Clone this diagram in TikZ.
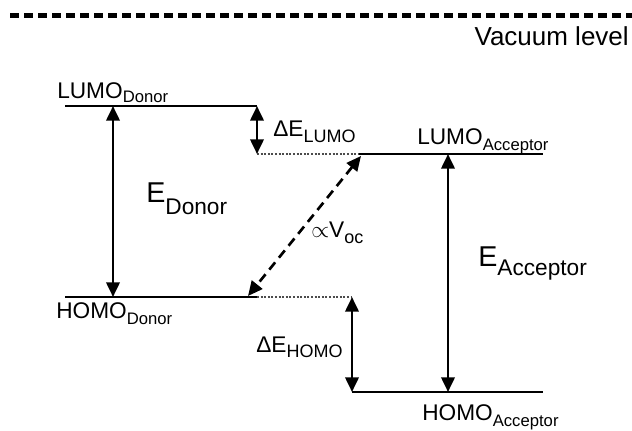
\documentclass[tikz,border=0pt]{standalone}
\usepackage{fontspec}
\setmainfont{Liberation Sans}
\usetikzlibrary{arrows.meta}
\newcommand{\subsc}[3][12.5]{\raisebox{-#2}{\fontsize{#1}{#1}\selectfont #3}}

\begin{document}
\begin{tikzpicture}[x=0.75pt, y=-0.75pt, >={Triangle[length=11pt,width=10pt]}]
	\tikzset{
		level/.style={line width=1.6pt},
		gap/.style={line width=1.3pt, black!70, dash pattern=on 1.5pt off 1.2pt},
		vacuum/.style={line width=3.75pt, dash pattern=on 6.75pt off 3.75pt},
		span/.style={<->, line width=2pt},
		lbl/.style={inner sep=0pt, anchor=base west, font=\fontsize{17}{19}\selectfont},
		big/.style={lbl, font=\fontsize{21.5}{24}\selectfont}
	}
	\useasboundingbox (0,0) rectangle (632,431);
	% energy levels
	\coordinate (vac-l) at (10,16);
	\coordinate (vac-r) at (632,16);
	\coordinate (lumoD-l) at (65,106);
	\coordinate (lumoD-r) at (257,106);
	\coordinate (homoD-l) at (65,297);
	\coordinate (homoD-r) at (257,297);
	\coordinate (lumoA-l) at (358,154);
	\coordinate (lumoA-r) at (543,154);
	\coordinate (homoA-l) at (352,392);
	\coordinate (homoA-r) at (543,392);
	\coordinate (lumoGap) at (257,154);
	\coordinate (homoGap) at (352,297);
	\coordinate (eD) at (113,0);
	\coordinate (eA) at (448,0);
	\coordinate (voc-a) at (361,156);
	\coordinate (voc-b) at (248,296);

	\draw[vacuum] (vac-l) -- (vac-r);
	\foreach \a/\b in {lumoD-l/lumoD-r, homoD-l/homoD-r, lumoA-l/lumoA-r, homoA-l/homoA-r}
		\draw[level] (\a) -- (\b);
	\draw[gap] (lumoGap) -- (lumoA-l);
	\draw[gap] (homoD-r) -- (homoGap);

	% gaps and offsets
	\draw[span] (eD |- lumoD-l) -- (eD |- homoD-l);
	\draw[span] (eA |- lumoA-l) -- (eA |- homoA-l);
	\draw[span] (lumoD-r) -- (lumoGap);
	\draw[span] (homoGap) -- (homoA-l);
	\draw[span, dash pattern=on 7pt off 4.5pt] (voc-a) -- (voc-b);

	% labels
	\node[inner sep=0pt, anchor=base east, font=\fontsize{19.5}{22}\selectfont] (vacLbl) at (629,46) {Vacuum level};
	\node[lbl] (lumoDLbl) at (57,99) {LUMO\subsc{3pt}{Donor}};
	\node[lbl] (homoDLbl) at (56,318) {HOMO\subsc{5pt}{Donor}};
	\node[lbl] (lumoALbl) at (417,145) {LUMO\subsc{4.5pt}{Acceptor}};
	\node[lbl] (homoALbl) at (422,420) {HOMO\subsc{5pt}{Acceptor}};
	\node[lbl] (dLumoLbl) at (273,137) {ΔE\subsc[13.5]{4.5pt}{LUMO}};
	\node[lbl] (dHomoLbl) at (256,352) {ΔE\subsc[13.5]{4pt}{HOMO}};
	\node[lbl] (vocLbl) at (311,238) {$\propto$V\subsc[13.5]{4pt}{oc}};
	\node[big] (eDLbl) at (146,203) {E\subsc[17]{9pt}{Donor}};
	\node[big] (eALbl) at (478,267) {E\subsc[17]{6.75pt}{Acceptor}};
\end{tikzpicture}
\end{document}
